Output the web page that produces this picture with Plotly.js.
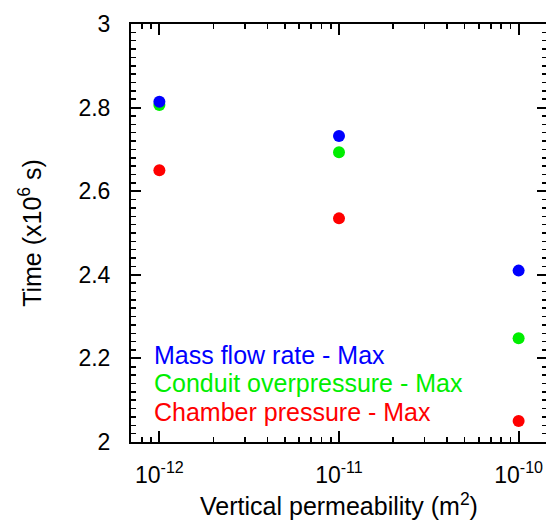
<!DOCTYPE html>
<html>
<head>
<meta charset="utf-8">
<script src="https://cdn.plot.ly/plotly-3.0.1.min.js"></script>
<style>
html, body { margin: 0; padding: 0; overflow: hidden; background: #fff; }
#chart { width: 547px; height: 522px; }
</style>
</head>
<body>
<div id="chart"></div>
<script>
// Data
const permeability = [1e-12, 1e-11, 1e-10];
const seriesNames = ["Mass flow rate - Max", "Conduit overpressure - Max", "Chamber pressure - Max"];
const massFlowMax = [2.814, 2.732, 2.410];
const conduitOverpressureMax = [2.806, 2.693, 2.248];
const chamberPressureMax = [2.650, 2.535, 2.050];
const xTickVals = [1e-12, 1e-11, 1e-10];
const xTickText = ["10<sup>-12</sup>", "10<sup>-11</sup>", "10<sup>-10</sup>"];

const colors = ["#0000ff", "#00ee00", "#ff0000"];
const seriesValues = [massFlowMax, conduitOverpressureMax, chamberPressureMax];

// draw order: red, green, blue (blue on top)
const order = [2, 1, 0];
const traces = order.map(i => ({
  x: permeability,
  y: seriesValues[i],
  name: seriesNames[i],
  type: "scatter",
  mode: "markers",
  marker: { color: colors[i], size: 12, line: { width: 0 } },
  showlegend: false,
  cliponaxis: false
}));

const FONT = "Liberation Sans, Arial, Helvetica, sans-serif";
const legendY = [0.208, 0.140, 0.0725];
const annotations = seriesNames.map((name, i) => ({
  text: name,
  xref: "paper", yref: "paper",
  x: 0.05, y: legendY[i],
  xanchor: "left", yanchor: "middle",
  showarrow: false,
  font: { family: FONT, size: 25, color: colors[i] }
}));

const layout = {
  width: 547, height: 522,
  margin: { l: 131, r: 0, t: 24, b: 80 },
  paper_bgcolor: "#ffffff",
  plot_bgcolor: "#ffffff",
  font: { family: FONT, size: 23, color: "#000" },
  showlegend: false,
  xaxis: {
    type: "log",
    range: [-12.158, -9.842],
    tickmode: "array",
    tickvals: xTickVals,
    ticktext: xTickText,
    ticks: "inside",
    ticklen: 11,
    tickwidth: 2,
    tickcolor: "#000",
    showline: true,
    linecolor: "#000",
    linewidth: 2,
    mirror: "ticks",
    showgrid: false,
    zeroline: false,
    tickfont: { family: FONT, size: 23 },
    ticklabelstandoff: 11,
    minor: { ticks: "inside", ticklen: 5, tickwidth: 1.5, tickcolor: "#000", dtick: "D1", showgrid: false },
    title: { text: "Vertical permeability (m<sup>2</sup>)", font: { family: FONT, size: 25 }, standoff: 11 },
    automargin: false
  },
  yaxis: {
    range: [2, 3],
    dtick: 0.2,
    tick0: 2,
    ticks: "inside",
    ticklen: 10,
    tickwidth: 2,
    tickcolor: "#000",
    showline: true,
    linecolor: "#000",
    linewidth: 2,
    mirror: "ticks",
    showgrid: false,
    zeroline: false,
    tickfont: { family: FONT, size: 23 },
    ticklabelstandoff: 14,
    minor: { ticks: "inside", ticklen: 5, tickwidth: 1.5, tickcolor: "#000", dtick: 0.02, showgrid: false },
    title: { text: "Time (x10<sup>6</sup> s)", font: { family: FONT, size: 25 }, standoff: 30 },
    automargin: false
  },
  annotations: annotations
};

Plotly.newPlot("chart", traces, layout, { displayModeBar: false, staticPlot: true });
</script>
</body>
</html>
